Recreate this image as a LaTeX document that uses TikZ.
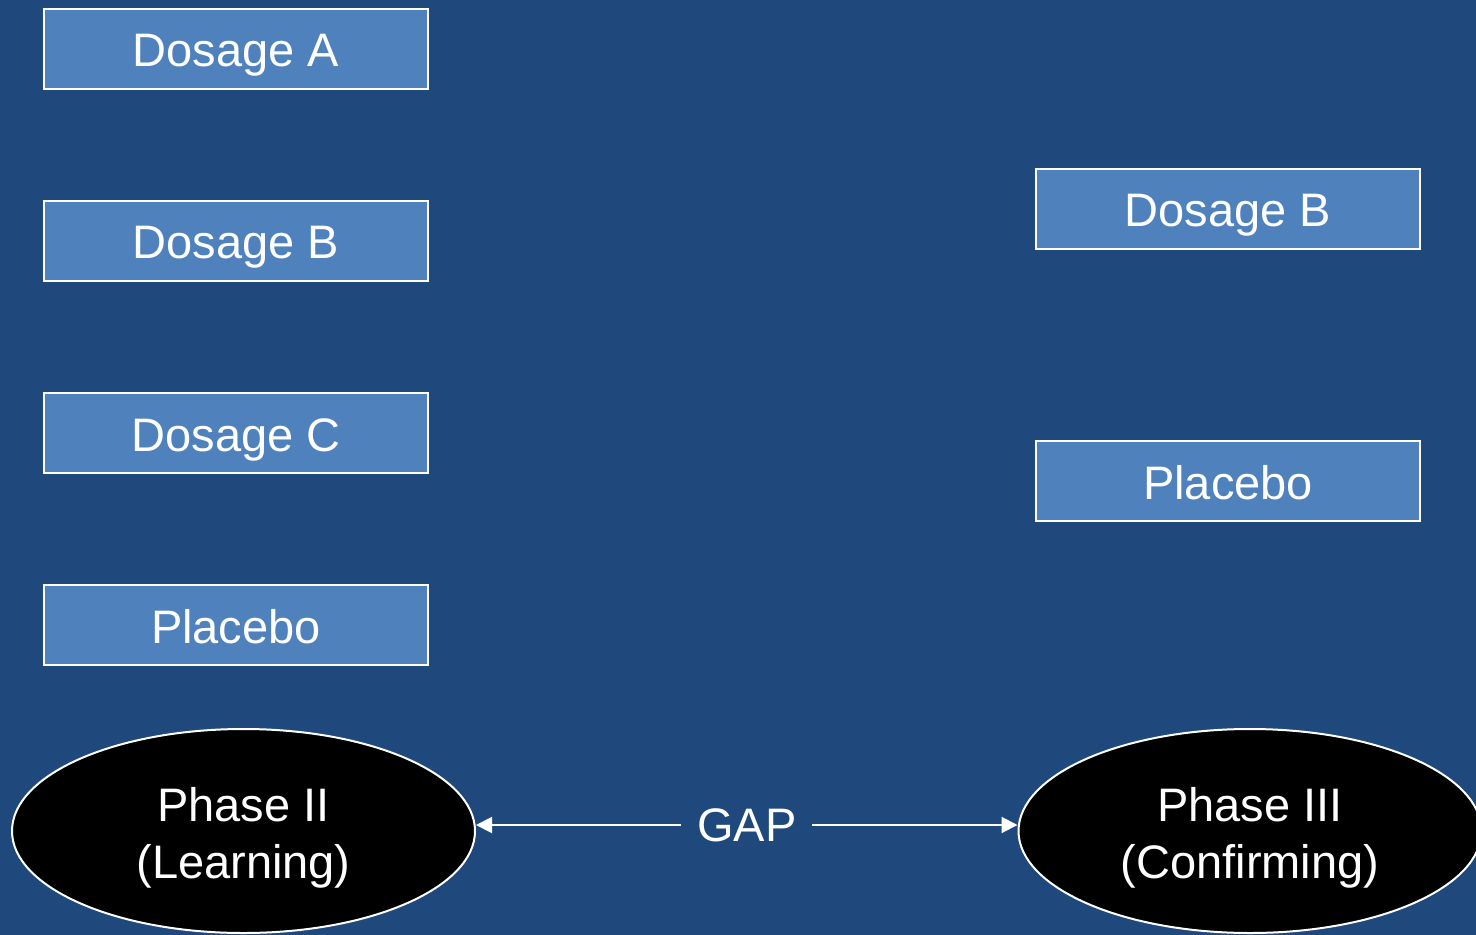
\documentclass[tikz,border=0pt]{standalone}
\usepackage{fontspec}
\setmainfont{Liberation Sans}
\usetikzlibrary{shapes.geometric,arrows.meta}
\definecolor{bg}{HTML}{1F497D}
\definecolor{boxfill}{HTML}{4F81BD}
\begin{document}
\begin{tikzpicture}[x=0.5pt,y=-0.5pt,
  armbox/.style={draw=white,line width=1pt,fill=boxfill,minimum width=192pt,minimum height=40pt,inner sep=0pt,text=white,text height=18pt,text depth=0pt,font=\fontsize{23.5}{28}\selectfont},
  phase/.style={ellipse,draw=white,line width=1pt,fill=black,minimum width=231.5pt,minimum height=102pt,inner sep=0pt,text=white,align=center,font=\fontsize{23.5}{28.5}\selectfont},
  gaparrow/.style={draw=white,line width=1pt,{Triangle[length=8pt,width=8pt]}-{Triangle[length=8pt,width=8pt]}}
]
\fill[bg] (0,0) rectangle (1476,935);
\useasboundingbox (0,0) rectangle (1476,935);
\node[armbox] (la) at (236,49) {Dosage A};
\node[armbox] (lb) at (236,241) {Dosage B};
\node[armbox] (lc) at (236,433) {Dosage C};
\node[armbox] (lp) at (236,625) {Placebo};
\node[armbox] (rb) at (1228,209) {Dosage B};
\node[armbox] (rp) at (1228,481) {Placebo};
\node[phase] (p2) at (243.5,831) {\rule{0pt}{24pt}Phase II\\(Learning)};
\node[phase] (p3) at (1250,831) {\rule{0pt}{24pt}Phase III\\(Confirming)};
\draw[gaparrow] ([yshift=3pt]p2.east) -- node[fill=bg,text=white,inner xsep=8pt,font=\fontsize{23.5}{28}\selectfont] (gap) {GAP} ([yshift=3pt]p3.west);
\end{tikzpicture}
\end{document}
